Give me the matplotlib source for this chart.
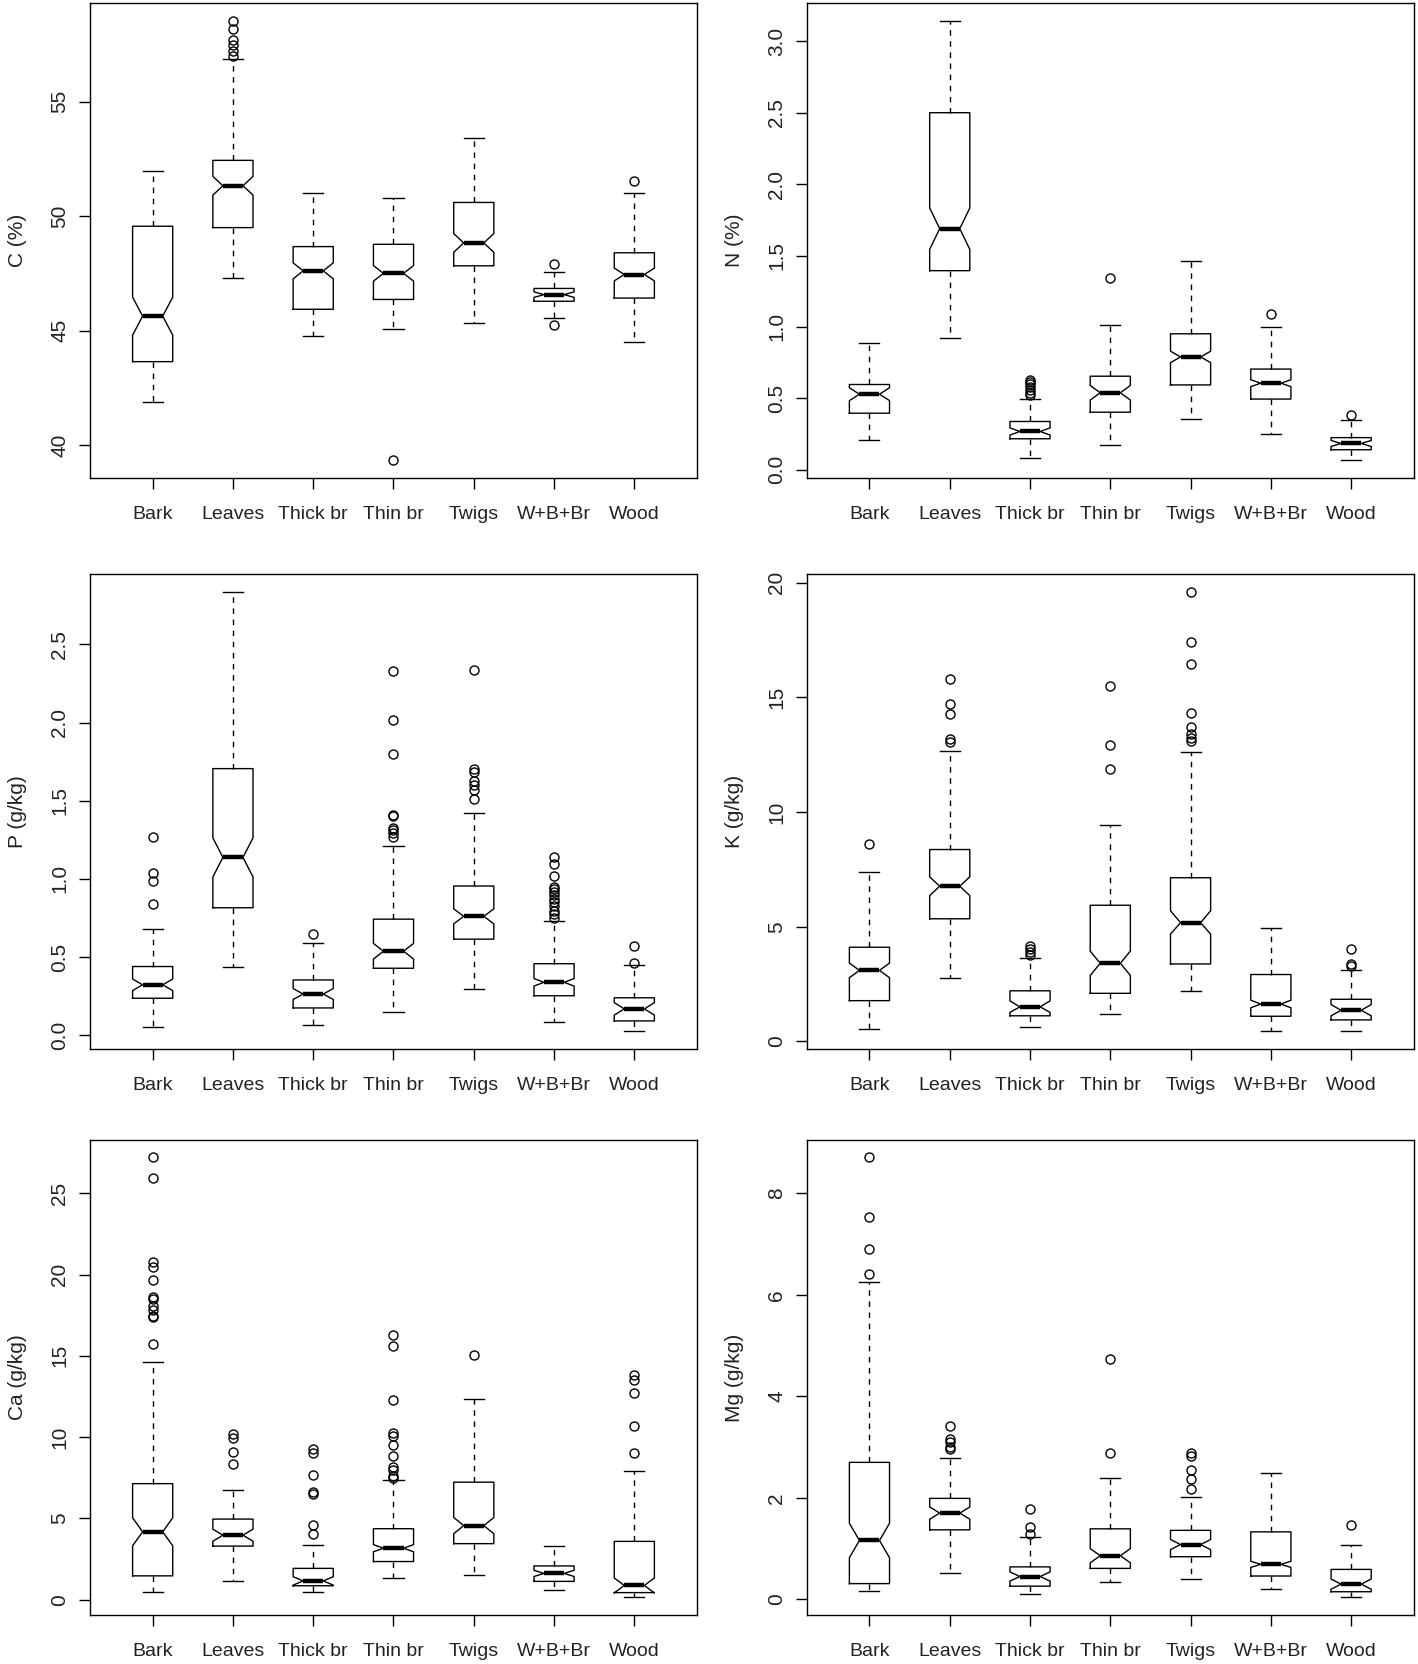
import matplotlib
matplotlib.use("Agg")
import matplotlib.pyplot as plt

plt.rcParams["font.family"] = ["Liberation Sans", "DejaVu Sans"]

TISSUES = ["Bark", "Leaves", "Thick br", "Thin br", "Twigs", "W+B+Br", "Wood"]

# C (%)
C_WHISLO = [41.87, 47.30, 44.77, 45.05, 45.35, 45.57, 44.52]
C_Q1 = [43.64, 49.50, 45.93, 46.36, 47.83, 46.28, 46.42]
C_CILO = [44.80, 50.92, 47.26, 47.16, 48.42, 46.45, 47.17]
C_MED = [45.63, 51.33, 47.61, 47.50, 48.83, 46.57, 47.45]
C_CIHI = [46.46, 51.74, 47.96, 47.84, 49.24, 46.69, 47.73]
C_Q3 = [49.56, 52.44, 48.67, 48.77, 50.60, 46.84, 48.40]
C_WHISHI = [51.99, 56.85, 51.01, 50.80, 53.43, 47.56, 51.01]
C_FLIERS = [[], [57.0, 57.2, 57.5, 57.7, 58.2, 58.55], [], [39.32], [], [45.26, 47.92], [51.55]]
C_TICKS = [40, 45, 50, 55]
C_TICK_LABELS = ["40", "45", "50", "55"]

# N (%)
N_WHISLO = [0.208, 0.923, 0.082, 0.176, 0.353, 0.251, 0.065]
N_Q1 = [0.396, 1.394, 0.217, 0.403, 0.594, 0.495, 0.140]
N_CILO = [0.484, 1.543, 0.243, 0.488, 0.750, 0.582, 0.163]
N_MED = [0.529, 1.688, 0.268, 0.539, 0.790, 0.606, 0.184]
N_CIHI = [0.574, 1.833, 0.293, 0.590, 0.830, 0.630, 0.205]
N_Q3 = [0.597, 2.500, 0.338, 0.655, 0.952, 0.705, 0.225]
N_WHISHI = [0.891, 3.145, 0.498, 1.017, 1.464, 1.000, 0.345]
N_FLIERS = [[], [], [0.52, 0.54, 0.56, 0.58, 0.60, 0.615, 0.628], [1.345], [], [1.094], [0.386]]
N_TICKS = [0.0, 0.5, 1.0, 1.5, 2.0, 2.5, 3.0]
N_TICK_LABELS = ["0.0", "0.5", "1.0", "1.5", "2.0", "2.5", "3.0"]

# P (g/kg)
P_WHISLO = [0.055, 0.437, 0.062, 0.148, 0.298, 0.086, 0.024]
P_Q1 = [0.236, 0.815, 0.174, 0.428, 0.614, 0.252, 0.091]
P_CILO = [0.285, 1.012, 0.228, 0.487, 0.712, 0.314, 0.128]
P_MED = [0.322, 1.137, 0.263, 0.537, 0.760, 0.338, 0.168]
P_CIHI = [0.359, 1.262, 0.298, 0.587, 0.808, 0.362, 0.208]
P_Q3 = [0.439, 1.705, 0.353, 0.742, 0.954, 0.457, 0.239]
P_WHISHI = [0.678, 2.838, 0.592, 1.212, 1.420, 0.731, 0.446]
P_FLIERS = [
    [0.839, 0.987, 1.038, 1.27],
    [],
    [0.647],
    [1.27, 1.29, 1.31, 1.325, 1.40, 1.41, 1.798, 2.014, 2.328],
    [1.513, 1.568, 1.601, 1.623, 1.685, 1.70, 2.334],
    [0.751, 0.773, 0.795, 0.828, 0.85, 0.872, 0.894, 0.917, 0.934, 0.95, 1.016, 1.093, 1.137],
    [0.462, 0.572],
]
P_TICKS = [0.0, 0.5, 1.0, 1.5, 2.0, 2.5]
P_TICK_LABELS = ["0.0", "0.5", "1.0", "1.5", "2.0", "2.5"]

# K (g/kg)
K_WHISLO = [0.53, 2.78, 0.63, 1.21, 2.21, 0.44, 0.47]
K_Q1 = [1.78, 5.35, 1.12, 2.10, 3.38, 1.10, 0.94]
K_CILO = [2.78, 6.36, 1.27, 2.88, 4.68, 1.47, 1.12]
K_MED = [3.10, 6.77, 1.51, 3.41, 5.18, 1.63, 1.36]
K_CIHI = [3.42, 7.18, 1.77, 3.94, 5.70, 1.80, 1.61]
K_Q3 = [4.11, 8.37, 2.21, 5.94, 7.14, 2.92, 1.84]
K_WHISHI = [7.40, 12.66, 3.63, 9.46, 12.61, 4.94, 3.13]
K_FLIERS = [
    [8.61],
    [13.07, 13.17, 14.26, 14.71, 15.80],
    [3.78, 3.88, 4.03, 4.18],
    [11.90, 12.92, 15.48],
    [13.10, 13.25, 13.40, 13.70, 14.34, 16.48, 17.42, 19.62],
    [],
    [3.28, 3.40, 4.03],
]
K_TICKS = [0, 5, 10, 15, 20]
K_TICK_LABELS = ["0", "5", "10", "15", "20"]

# Ca (g/kg)
CA_WHISLO = [0.48, 1.18, 0.48, 1.32, 1.53, 0.63, 0.15]
CA_Q1 = [1.47, 3.30, 0.86, 2.35, 3.45, 1.13, 0.44]
CA_CILO = [3.32, 3.60, 0.90, 2.95, 4.06, 1.43, 0.42]
CA_MED = [4.18, 3.97, 1.16, 3.17, 4.56, 1.62, 0.88]
CA_CIHI = [5.04, 4.34, 1.42, 3.39, 5.06, 1.81, 1.34]
CA_Q3 = [7.14, 4.96, 1.93, 4.37, 7.23, 2.08, 3.59]
CA_WHISHI = [14.62, 6.74, 3.38, 7.37, 12.33, 3.32, 7.94]
CA_FLIERS = [
    [15.74, 17.37, 17.46, 17.84, 18.05, 18.51, 18.63, 19.66, 20.46, 20.78, 25.95, 27.2],
    [8.32, 9.08, 9.96, 10.21],
    [4.05, 4.60, 6.53, 6.64, 7.67, 9.01, 9.26],
    [7.5, 7.58, 7.96, 8.17, 8.87, 9.5, 10.1, 10.23, 12.27, 15.63, 16.26],
    [15.06],
    [],
    [9.01, 10.69, 12.73, 13.49, 13.8],
]
CA_TICKS = [0, 5, 10, 15, 20, 25]
CA_TICK_LABELS = ["0", "5", "10", "15", "20", "25"]

# Mg (g/kg)
MG_WHISLO = [0.16, 0.52, 0.10, 0.34, 0.40, 0.20, 0.04]
MG_Q1 = [0.31, 1.37, 0.26, 0.61, 0.84, 0.46, 0.15]
MG_CILO = [0.82, 1.58, 0.36, 0.72, 0.98, 0.63, 0.20]
MG_MED = [1.16, 1.70, 0.45, 0.86, 1.08, 0.69, 0.30]
MG_CIHI = [1.50, 1.82, 0.54, 1.00, 1.18, 0.75, 0.40]
MG_Q3 = [2.70, 1.99, 0.64, 1.39, 1.36, 1.33, 0.59]
MG_WHISHI = [6.25, 2.78, 1.23, 2.39, 2.01, 2.49, 1.08]
MG_FLIERS = [
    [6.42, 6.91, 7.53, 8.71],
    [2.97, 3.00, 3.10, 3.17, 3.41],
    [1.29, 1.43, 1.78],
    [2.89, 4.73],
    [2.18, 2.38, 2.54, 2.82, 2.88],
    [],
    [1.46],
]
MG_TICKS = [0, 2, 4, 6, 8]
MG_TICK_LABELS = ["0", "2", "4", "6", "8"]

TEXT_COLOR = "#222222"


def draw_panel(ax, ylabel, whislo, q1, cilo, med, cihi, q3, whishi, fliers, ticks, tick_labels):
    stats = []
    for i, name in enumerate(TISSUES):
        stats.append(dict(label=name, whislo=whislo[i], q1=q1[i], cilo=cilo[i], med=med[i],
                          cihi=cihi[i], q3=q3[i], whishi=whishi[i], fliers=fliers[i]))

    positions = list(range(1, len(TISSUES) + 1))
    ax.bxp(
        stats,
        positions=positions,
        widths=0.5,
        shownotches=True,
        boxprops=dict(color="black", linewidth=1.0),
        whiskerprops=dict(color="black", linewidth=1.0, linestyle=(0, (4, 4))),
        capprops=dict(color="black", linewidth=1.0),
        medianprops=dict(color="black", linewidth=3.2, solid_capstyle="butt"),
        flierprops=dict(marker="o", markerfacecolor="none", markeredgecolor="black",
                        markersize=6.5, markeredgewidth=1.0, linestyle="none"),
    )

    # R style limits: data range stretched by 4 % on each side
    values = list(whislo) + list(whishi) + [v for f in fliers for v in f]
    lo, hi = min(values), max(values)
    pad = 0.04 * (hi - lo)
    ax.set_ylim(lo - pad, hi + pad)
    n = len(TISSUES)
    ax.set_xlim(0.5 - 0.04 * n, n + 0.5 + 0.04 * n)

    ax.set_xticks(positions, TISSUES)
    ax.set_yticks(ticks, tick_labels, rotation=90, va="center")
    ax.tick_params(axis="both", direction="out", length=8, width=1.0, color="black",
                   labelcolor=TEXT_COLOR)
    ax.tick_params(axis="x", labelsize=14, pad=12)
    ax.tick_params(axis="y", labelsize=15, pad=7)
    for spine in ax.spines.values():
        spine.set_linewidth(1.0)
        spine.set_color("black")

    ax.set_ylabel(ylabel, fontsize=15, color=TEXT_COLOR)
    ax.yaxis.set_label_coords(-0.104, 0.5)


def main() -> None:
    fig = plt.figure(figsize=(14.18, 16.64), dpi=100)

    left_x, right_x, width = 0.0635, 0.569, 0.428
    rows = [0.7127, 0.3696, 0.0295]
    height = 0.2855

    panels = [
        ("C (%)", C_WHISLO, C_Q1, C_CILO, C_MED, C_CIHI, C_Q3, C_WHISHI, C_FLIERS, C_TICKS, C_TICK_LABELS),
        ("N (%)", N_WHISLO, N_Q1, N_CILO, N_MED, N_CIHI, N_Q3, N_WHISHI, N_FLIERS, N_TICKS, N_TICK_LABELS),
        ("P (g/kg)", P_WHISLO, P_Q1, P_CILO, P_MED, P_CIHI, P_Q3, P_WHISHI, P_FLIERS, P_TICKS, P_TICK_LABELS),
        ("K (g/kg)", K_WHISLO, K_Q1, K_CILO, K_MED, K_CIHI, K_Q3, K_WHISHI, K_FLIERS, K_TICKS, K_TICK_LABELS),
        ("Ca (g/kg)", CA_WHISLO, CA_Q1, CA_CILO, CA_MED, CA_CIHI, CA_Q3, CA_WHISHI, CA_FLIERS, CA_TICKS,
         CA_TICK_LABELS),
        ("Mg (g/kg)", MG_WHISLO, MG_Q1, MG_CILO, MG_MED, MG_CIHI, MG_Q3, MG_WHISHI, MG_FLIERS, MG_TICKS,
         MG_TICK_LABELS),
    ]

    for i, panel in enumerate(panels):
        x0 = left_x if i % 2 == 0 else right_x
        y0 = rows[i // 2]
        ax = fig.add_axes([x0, y0, width, height])
        draw_panel(ax, *panel)

    fig.savefig("out.png", dpi=100, facecolor="white")


if __name__ == "__main__":
    main()
